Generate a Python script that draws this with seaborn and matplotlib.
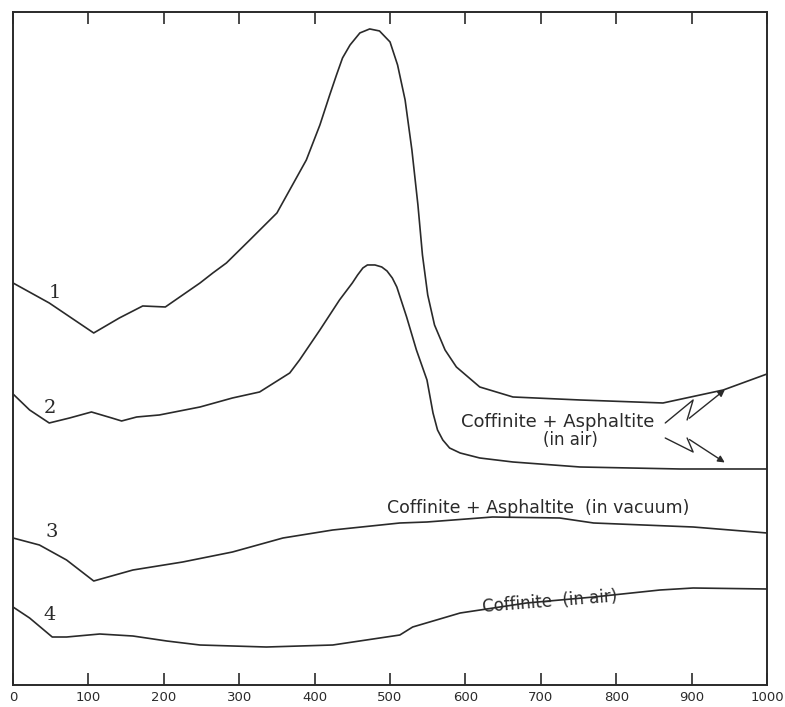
import numpy as np
import pandas as pd
import matplotlib
matplotlib.use("Agg")
import matplotlib.pyplot as plt
import seaborn as sns

# ---- data (temperature in deg C, deflection in arbitrary units) ----
t1 = [0, 48, 107, 141, 172, 202, 248, 265, 283, 314, 350, 389, 407, 420, 429, 437, 447, 460,
      473, 486, 500, 510, 520, 529, 537, 543, 550, 559, 573, 588, 619, 663, 752, 862, 942, 1000]
y1 = [402, 382, 352, 367, 379, 378, 402, 412, 422, 445, 472, 525, 560, 590, 610, 627, 640, 652,
      656, 654, 643, 620, 585, 535, 480, 430, 390, 360, 335, 318, 298, 288, 285, 282, 295, 311]

t2 = [0, 22, 48, 75, 104, 131, 144, 164, 194, 248, 291, 327, 367, 380, 407, 433, 450, 457, 464,
      470, 480, 489, 496, 503, 509, 522, 535, 549, 557, 563, 570, 579, 593, 619, 663, 752, 885, 1000]
y2 = [291, 275, 262, 267, 273, 267, 264, 268, 270, 278, 287, 293, 312, 325, 355, 385, 402, 410, 417,
      420, 420, 418, 414, 407, 398, 368, 335, 305, 272, 255, 245, 237, 232, 227, 223, 218, 216, 216]

t3 = [0, 35, 71, 107, 159, 225, 291, 358, 424, 513, 549, 636, 725, 770, 902, 1000]
y3 = [147, 140, 125, 104, 115, 123, 133, 147, 155, 162, 163, 168, 167, 162, 158, 152]

t4 = [0, 22, 52, 71, 115, 159, 204, 248, 336, 424, 513, 530, 593, 681, 770, 858, 902, 1000]
y4 = [78, 67, 48, 48, 51, 49, 44, 40, 38, 40, 50, 58, 72, 82, 88, 95, 97, 96]

curve_labels = ["1", "2", "3", "4"]
x_ticks = [0, 100, 200, 300, 400, 500, 600, 700, 800, 900, 1000]
x_ticklabels = ["0", "100", "200", "300", "400", "500", "600", "700", "800", "900", "1000"]

frames = []
for lab, t, y in zip(curve_labels, [t1, t2, t3, t4], [y1, y2, y3, y4]):
    frames.append(pd.DataFrame({"T": t, "dT": y, "curve": lab}))
df = pd.concat(frames, ignore_index=True)

sns.set_theme(style="white")
plt.rcParams["font.family"] = ["DejaVu Sans"]

ink = "#2a2a2a"
fig = plt.figure(figsize=(7.85, 7.07), dpi=100)
ax = fig.add_axes([0.0166, 0.0311, 0.9605, 0.952])

sns.lineplot(data=df, x="T", y="dT", units="curve", estimator=None, sort=False,
             color=ink, linewidth=1.2, ax=ax, legend=False,
             solid_joinstyle="round", solid_capstyle="round")

ax.set_xlim(0, 1000)
ax.set_ylim(0, 673)
ax.set_xticks(x_ticks)
ax.set_xticklabels(x_ticklabels)
ax.set_yticks([])
ax.set_xlabel("")
ax.set_ylabel("")
ax.tick_params(axis="x", direction="in", length=8.5, width=1.2, color=ink,
               labelsize=9.5, labelcolor=ink, pad=4.5, top=True, bottom=True)
for s in ax.spines.values():
    s.set_visible(True)
    s.set_color(ink)
    s.set_linewidth(1.4)

# curve numbers
num_font = dict(family=["DejaVu Serif"], fontsize=14, color=ink, ha="center", va="center")
ax.text(55, 392, "1", **num_font)
ax.text(49, 277, "2", **num_font)
ax.text(51, 153, "3", **num_font)
ax.text(48, 70, "4", **num_font)

lab_font = dict(family=["Liberation Sans Narrow", "DejaVu Sans"], color=ink)
ax.text(723, 263, "Coffinite + Asphaltite", ha="center", va="center", fontsize=13, **lab_font)
ax.text(739, 245, "(in air)", ha="center", va="center", fontsize=12, **lab_font)
ax.text(696, 177, "Coffinite + Asphaltite  (in vacuum)", ha="center", va="center",
        fontsize=12.5, **lab_font)
ax.text(712, 83, "Coffinite  (in air)", ha="center", va="center", fontsize=12,
        rotation=4.5, **lab_font)

# lightning arrows
ax.plot([865, 902, 894], [262, 285, 265], color=ink, lw=1.0)
ax.annotate("", xy=(947, 297), xytext=(894, 265),
            arrowprops=dict(arrowstyle="-|>", color=ink, lw=1.0, mutation_scale=10))
ax.plot([865, 902, 894], [247, 233, 247], color=ink, lw=1.0)
ax.annotate("", xy=(947, 221), xytext=(894, 247),
            arrowprops=dict(arrowstyle="-|>", color=ink, lw=1.0, mutation_scale=10))

fig.savefig("out.png", dpi=100, facecolor="white")
